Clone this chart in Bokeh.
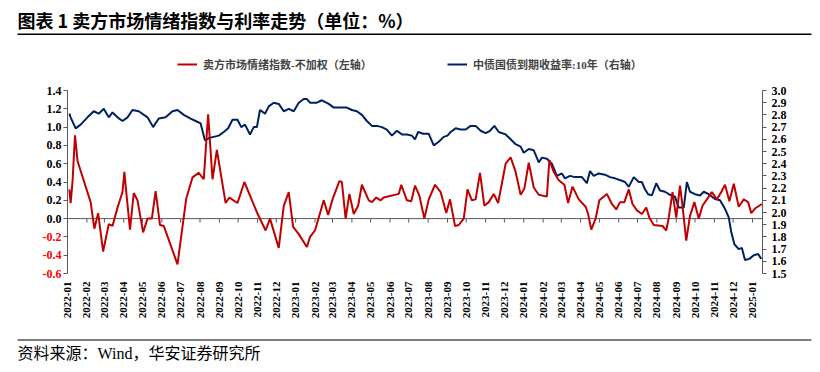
import math
from datetime import datetime
import pandas as pd
from bokeh.plotting import figure
from bokeh.models import (Range1d, LinearAxis, FixedTicker, Label, BoxAnnotation,
                          Legend, LegendItem, CustomJSTickFormatter, AllLabels)
from bokeh.core.properties import value
from bokeh.embed import file_html
from bokeh.resources import INLINE

title_text = "图表 1 卖方市场情绪指数与利率走势（单位：%）"
source_text = "资料来源：Wind，华安证券研究所"
sentiment_name = "卖方市场情绪指数-不加权（左轴）"
yield_name = "中债国债到期收益率:10年（右轴）"

sentiment_dates = [
    "2022-01-04", "2022-01-06", "2022-01-09", "2022-01-13", "2022-01-17", "2022-02-07", "2022-02-13",
    "2022-02-19", "2022-02-27", "2022-03-08", "2022-03-14", "2022-03-22", "2022-03-30", "2022-04-02",
    "2022-04-05", "2022-04-11", "2022-04-17", "2022-04-23", "2022-05-02", "2022-05-09", "2022-05-16",
    "2022-05-22", "2022-05-29", "2022-06-04", "2022-06-26", "2022-07-10", "2022-07-20", "2022-07-30",
    "2022-08-07", "2022-08-14", "2022-08-21", "2022-08-28", "2022-09-11", "2022-09-17", "2022-09-30",
    "2022-10-11", "2022-10-20", "2022-10-31", "2022-11-14", "2022-11-21", "2022-12-05", "2022-12-13",
    "2022-12-21", "2022-12-28", "2023-01-06", "2023-01-19", "2023-01-24", "2023-02-01", "2023-02-15",
    "2023-02-22", "2023-03-01", "2023-03-12", "2023-03-16", "2023-03-22", "2023-03-28", "2023-04-04",
    "2023-04-11", "2023-04-17", "2023-04-28", "2023-05-03", "2023-05-10", "2023-05-17", "2023-05-22",
    "2023-06-15", "2023-06-19", "2023-06-28", "2023-07-05", "2023-07-11", "2023-07-18", "2023-07-26",
    "2023-08-02", "2023-08-12", "2023-08-21", "2023-08-30", "2023-09-05", "2023-09-13", "2023-09-19",
    "2023-09-27", "2023-10-03", "2023-10-10", "2023-10-16", "2023-10-23", "2023-10-30", "2023-11-06",
    "2023-11-14", "2023-11-21", "2023-12-03", "2023-12-11", "2023-12-19", "2023-12-27", "2024-01-02",
    "2024-01-09", "2024-01-17", "2024-01-25", "2024-02-07", "2024-02-11", "2024-02-18", "2024-02-26",
    "2024-03-06", "2024-03-12", "2024-03-19", "2024-03-29", "2024-04-09", "2024-04-13", "2024-04-18",
    "2024-04-25", "2024-05-01", "2024-05-13", "2024-05-21", "2024-05-28", "2024-06-03", "2024-06-10",
    "2024-06-17", "2024-06-23", "2024-06-30", "2024-07-08", "2024-07-15", "2024-07-20", "2024-07-27",
    "2024-08-10", "2024-08-16", "2024-08-20", "2024-08-26", "2024-09-01", "2024-09-07", "2024-09-11",
    "2024-09-17", "2024-09-23", "2024-09-30", "2024-10-07", "2024-10-13", "2024-10-20", "2024-10-28",
    "2024-11-05", "2024-11-12", "2024-11-18", "2024-11-25", "2024-12-02", "2024-12-10", "2024-12-18",
    "2024-12-25", "2024-12-30", "2025-01-05", "2025-01-16",
]
sentiment_values = [
    0.32, 0.17, 0.40, 0.91, 0.63, 0.18, -0.11,
    0.06, -0.36, -0.06, -0.08, 0.12, 0.29, 0.51,
    0.29, -0.12, 0.28, 0.20, -0.15, 0.00, 0.00,
    0.30, -0.07, -0.08, -0.50, 0.22, 0.45, 0.50,
    0.43, 1.14, 0.43, 0.75, 0.17, 0.23, 0.17,
    0.40, 0.25, 0.07, -0.13, 0.00, -0.32, 0.14,
    0.29, -0.09, -0.17, -0.31, -0.20, -0.13, 0.20,
    0.04, 0.21, 0.41, 0.40, 0.00, 0.27, 0.05,
    0.14, 0.37, 0.20, 0.18, 0.23, 0.20, 0.23,
    0.27, 0.37, 0.20, 0.19, 0.36, 0.25, 0.00,
    0.21, 0.37, 0.29, 0.06, 0.21, -0.08, -0.07,
    0.00, 0.32, 0.20, 0.21, 0.50, 0.14, 0.18,
    0.27, 0.17, 0.60, 0.67, 0.51, 0.26, 0.33,
    0.61, 0.34, 0.26, 0.24, 0.64, 0.51, 0.42,
    0.37, 0.17, 0.35, 0.21, 0.13, 0.05, -0.12,
    0.00, 0.20, 0.27, 0.16, 0.10, 0.18, 0.18,
    0.32, 0.16, 0.09, 0.05, 0.12, 0.01, -0.07,
    -0.08, -0.13, 0.01, 0.29, 0.01, 0.36, 0.14,
    -0.24, 0.03, 0.18, 0.00, 0.14, 0.21, 0.29,
    0.21, 0.29, 0.37, 0.19, 0.38, 0.13, 0.21,
    0.18, 0.06, 0.11, 0.16,
]

yield_dates = [
    "2022-01-04", "2022-01-06", "2022-01-14", "2022-01-22", "2022-02-02", "2022-02-12", "2022-02-20",
    "2022-02-28", "2022-03-08", "2022-03-14", "2022-03-22", "2022-03-30", "2022-04-07", "2022-04-15",
    "2022-04-25", "2022-05-09", "2022-05-18", "2022-05-27", "2022-06-07", "2022-06-18", "2022-06-26",
    "2022-07-06", "2022-07-17", "2022-07-25", "2022-08-02", "2022-08-09", "2022-08-15", "2022-08-23",
    "2022-08-31", "2022-09-08", "2022-09-15", "2022-09-22", "2022-09-30", "2022-10-06", "2022-10-12",
    "2022-10-20", "2022-10-26", "2022-10-31", "2022-11-05", "2022-11-13", "2022-11-19", "2022-11-27",
    "2022-12-05", "2022-12-13", "2022-12-21", "2022-12-29", "2023-01-06", "2023-01-14", "2023-01-19",
    "2023-01-24", "2023-02-04", "2023-02-12", "2023-02-23", "2023-03-03", "2023-03-13", "2023-03-24",
    "2023-04-01", "2023-04-09", "2023-04-17", "2023-04-25", "2023-05-03", "2023-05-11", "2023-05-19",
    "2023-05-27", "2023-06-04", "2023-06-12", "2023-06-20", "2023-06-28", "2023-07-06", "2023-07-11",
    "2023-07-16", "2023-07-24", "2023-08-02", "2023-08-10", "2023-08-18", "2023-08-26", "2023-09-01",
    "2023-09-06", "2023-09-14", "2023-09-22", "2023-09-30", "2023-10-08", "2023-10-16", "2023-10-24",
    "2023-11-01", "2023-11-08", "2023-11-15", "2023-11-22", "2023-12-03", "2023-12-11", "2023-12-19",
    "2023-12-27", "2024-01-01", "2024-01-09", "2024-01-17", "2024-01-25", "2024-01-30", "2024-02-07",
    "2024-02-15", "2024-02-23", "2024-03-02", "2024-03-07", "2024-03-15", "2024-03-23", "2024-04-03",
    "2024-04-11", "2024-04-16", "2024-04-22", "2024-04-30", "2024-05-10", "2024-05-18", "2024-05-26",
    "2024-06-06", "2024-06-11", "2024-06-17", "2024-06-25", "2024-07-03", "2024-07-08", "2024-07-13",
    "2024-07-18", "2024-07-24", "2024-07-31", "2024-08-06", "2024-08-14", "2024-08-22", "2024-08-30",
    "2024-09-05", "2024-09-13", "2024-09-18", "2024-09-23", "2024-10-01", "2024-10-09", "2024-10-15",
    "2024-10-23", "2024-11-02", "2024-11-10", "2024-11-18", "2024-11-24", "2024-11-28", "2024-12-03",
    "2024-12-10", "2024-12-15", "2024-12-20", "2024-12-27", "2025-01-03", "2025-01-10", "2025-01-15",
]
yield_values = [
    2.81, 2.78, 2.69, 2.72, 2.78, 2.83, 2.81,
    2.85, 2.78, 2.82, 2.78, 2.75, 2.78, 2.84,
    2.83, 2.78, 2.70, 2.77, 2.78, 2.83, 2.84,
    2.80, 2.77, 2.75, 2.73, 2.59, 2.61, 2.62,
    2.63, 2.66, 2.69, 2.76, 2.76, 2.70, 2.72,
    2.64, 2.70, 2.70, 2.84, 2.81, 2.87, 2.90,
    2.89, 2.83, 2.85, 2.83, 2.90, 2.93, 2.93,
    2.90, 2.90, 2.92, 2.89, 2.86, 2.86, 2.86,
    2.84, 2.83, 2.80, 2.75, 2.71, 2.71, 2.70,
    2.68, 2.63, 2.67, 2.64, 2.64, 2.63, 2.60,
    2.66, 2.645, 2.645, 2.55, 2.58, 2.62, 2.63,
    2.66, 2.69, 2.68, 2.68, 2.71, 2.71, 2.67,
    2.65, 2.67, 2.71, 2.66, 2.64, 2.60, 2.56,
    2.54, 2.49, 2.52, 2.51, 2.41, 2.45, 2.44,
    2.40, 2.30, 2.32, 2.28, 2.30, 2.29, 2.29,
    2.24, 2.34, 2.30, 2.32, 2.31, 2.29, 2.28,
    2.26, 2.25, 2.21, 2.29, 2.25, 2.25, 2.19,
    2.15, 2.14, 2.24, 2.18, 2.17, 2.145, 2.13,
    2.04, 2.04, 2.25, 2.17, 2.15, 2.14, 2.17,
    2.15, 2.11, 2.10, 2.03, 1.96, 1.84, 1.74,
    1.70, 1.71, 1.61, 1.62, 1.65, 1.66, 1.62,
]

month_labels = [
    "2022-01", "2022-02", "2022-03", "2022-04", "2022-05", "2022-06", "2022-07", "2022-08", "2022-09",
    "2022-10", "2022-11", "2022-12", "2023-01", "2023-02", "2023-03", "2023-04", "2023-05", "2023-06",
    "2023-07", "2023-08", "2023-09", "2023-10", "2023-11", "2023-12", "2024-01", "2024-02", "2024-03",
    "2024-04", "2024-05", "2024-06", "2024-07", "2024-08", "2024-09", "2024-10", "2024-11", "2024-12",
    "2025-01",
]
left_ticks = [-0.6, -0.4, -0.2, 0.0, 0.2, 0.4, 0.6, 0.8, 1.0, 1.2, 1.4]
right_ticks = [1.5, 1.6, 1.7, 1.8, 1.9, 2.0, 2.1, 2.2, 2.3, 2.4, 2.5, 2.6, 2.7, 2.8, 2.9, 3.0]
x_first = datetime(2022, 1, 1)
x_last = datetime(2025, 1, 17)

# ---- layout (pixels on the page) ----
W, H = 820, 372
PX_L, PX_R = 67, 762      # plot area left / right
PY_T, PY_B = 90, 273      # plot area top / bottom

RED = "#C00000"
NAVY = "#002060"
AXIS = "#595959"
SERIF = "'Liberation Serif', 'Noto Sans CJK SC'"
CJK = "'Noto Sans CJK SC'"
NUM = "'Liberation Serif'"

s_dt = pd.to_datetime(sentiment_dates)
y_dt = pd.to_datetime(yield_dates)
m_dt = pd.to_datetime([m + "-01" for m in month_labels])

x0 = pd.Timestamp(x_first).value / 1e6
x1 = pd.Timestamp(x_last).value / 1e6
ms_per_px = (x1 - x0) / (PX_R - PX_L)
xr = Range1d(x0 - PX_L * ms_per_px, x1 + (W - PX_R) * ms_per_px)

lpp = (left_ticks[-1] - left_ticks[0]) / (PY_B - PY_T)
yl = Range1d(left_ticks[0] - (H - PY_B) * lpp, left_ticks[-1] + PY_T * lpp)
rpp = (right_ticks[-1] - right_ticks[0]) / (PY_B - PY_T)
yr = Range1d(right_ticks[0] - (H - PY_B) * rpp, right_ticks[-1] + PY_T * rpp)

p = figure(width=W, height=H, x_axis_type="datetime", output_backend="svg", toolbar_location=None,
           x_range=xr, y_range=yl, min_border=0)
p.extra_y_ranges = {"yr": yr}
p.outline_line_color = None
p.grid.visible = False
p.background_fill_color = "white"
p.border_fill_color = "white"

# left axis
ya = p.yaxis[0]
ya.fixed_location = x0
ya.bounds = (left_ticks[0], left_ticks[-1])
ya.ticker = FixedTicker(ticks=left_ticks)
ya.formatter = CustomJSTickFormatter(code="return tick < -0.001 ? '' : tick.toFixed(1);")
ya.axis_line_color = AXIS
ya.major_tick_line_color = AXIS
ya.major_tick_out = 4
ya.major_tick_in = 0
ya.minor_tick_line_color = None
ya.major_label_standoff = 2
ya.major_label_policy = AllLabels()
ya.major_label_text_font = NUM
ya.major_label_text_font_style = "bold"
ya.major_label_text_font_size = "12px"
ya.major_label_text_color = "#000000"

# right axis
ra = LinearAxis(y_range_name="yr", ticker=FixedTicker(ticks=right_ticks),
                formatter=CustomJSTickFormatter(code="return tick.toFixed(1);"))
ra.fixed_location = x1
ra.bounds = (right_ticks[0], right_ticks[-1])
ra.axis_line_color = AXIS
ra.major_tick_line_color = AXIS
ra.major_tick_out = 4
ra.major_tick_in = 0
ra.minor_tick_line_color = None
ra.major_label_standoff = 5
ra.major_label_policy = AllLabels()
ra.major_label_text_font = NUM
ra.major_label_text_font_style = "bold"
ra.major_label_text_font_size = "12px"
ra.major_label_text_color = "#000000"
p.add_layout(ra, "right")

# bottom axis: category-like month labels drawn as rotated text under each month tick
p.xaxis.visible = False
label_y = left_ticks[0] - 8 * lpp
p.text(x=m_dt, y=[label_y] * len(m_dt), text=month_labels, angle=math.pi / 2,
       text_align="right", text_baseline="middle", text_font=value(NUM), text_font_style="bold",
       text_font_size="11px", text_color="#000000")

# zero line with month tick marks
tick_len = 4 * lpp
p.segment(x0=[x_first], y0=[0], x1=[x_last], y1=[0], line_color=AXIS, line_width=1)
p.segment(x0=m_dt, y0=[0] * len(m_dt), x1=m_dt, y1=[-tick_len] * len(m_dt), line_color=AXIS, line_width=1)

r_yield = p.line(y_dt, yield_values, y_range_name="yr", line_color=NAVY, line_width=2)
r_sent = p.line(s_dt, sentiment_values, line_color=RED, line_width=2)

# red labels for negative left ticks
for t in left_ticks:
    if t < 0:
        p.add_layout(Label(x=PX_L - 6, y=t, x_units="screen", y_units="data", text=f"{t:.1f}",
                           text_align="right", text_baseline="middle", text_color="#FF0000",
                           text_font=NUM, text_font_style="bold", text_font_size="12px"))

def make_legend(label, renderer, left_px):
    lg = Legend(items=[LegendItem(label=label, renderers=[renderer])],
                orientation="horizontal", location=(left_px, H - 66 - 6))
    lg.border_line_color = None
    lg.background_fill_alpha = 0
    lg.label_text_font = SERIF
    lg.label_text_font_style = "bold"
    lg.label_text_font_size = "11px"
    lg.glyph_width = 20
    lg.glyph_height = 12
    lg.label_height = 12
    lg.label_standoff = 6
    lg.padding = 0
    lg.margin = 0
    return lg

p.add_layout(make_legend(sentiment_name, r_sent, 177))
p.add_layout(make_legend(yield_name, r_yield, 447))

# title, rules and source
p.add_layout(Label(x=17, y=H - 19, x_units="screen", y_units="screen", text=title_text,
                   text_align="left", text_baseline="middle", text_font=CJK, text_font_style="bold",
                   text_font_size="18px", text_color="#000000"))
p.add_layout(BoxAnnotation(left=17, right=811, bottom=H - 34.5, top=H - 33, left_units="screen",
                           right_units="screen", bottom_units="screen", top_units="screen",
                           fill_color="#000000", fill_alpha=1, line_color=None))
p.add_layout(BoxAnnotation(left=17, right=811, bottom=H - 340, top=H - 339, left_units="screen",
                           right_units="screen", bottom_units="screen", top_units="screen",
                           fill_color="#000000", fill_alpha=1, line_color=None))
p.add_layout(Label(x=17, y=H - 353, x_units="screen", y_units="screen", text=source_text,
                   text_align="left", text_baseline="middle", text_font=SERIF,
                   text_font_size="16px", text_color="#000000"))

open("out.html", "w").write(file_html(p, INLINE))
